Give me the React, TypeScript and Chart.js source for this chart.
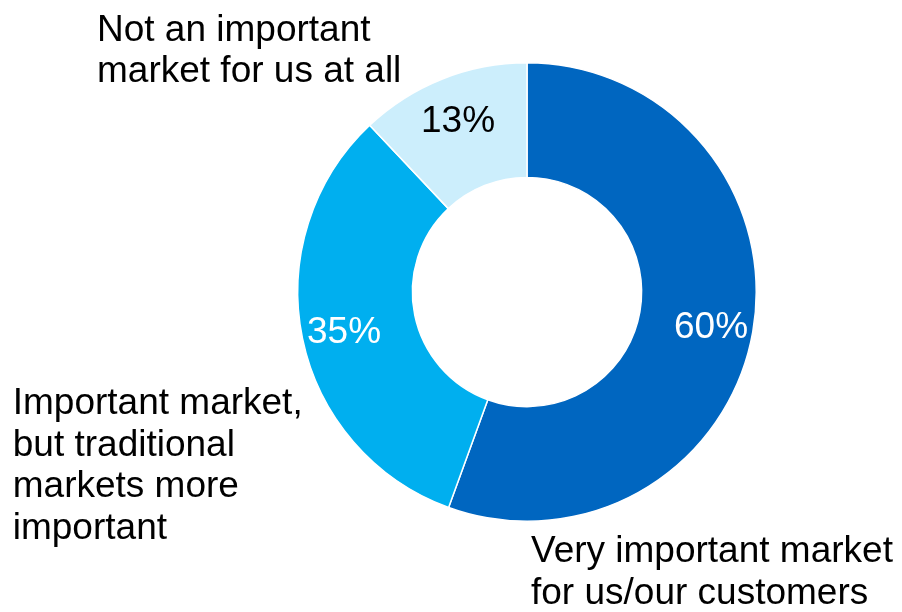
import React, { useEffect, useRef } from "react";
import { Chart, registerables } from "chart.js";

Chart.register(...registerables);

const categories = [
  "Very important market for us/our customers",
  "Important market, but traditional markets more important",
  "Not an important market for us at all",
];
const shares = [60, 35, 13];
const sliceColors = ["#0066C0", "#00AFEF", "#CCEEFC"];
const valueTextColors = ["#FFFFFF", "#FFFFFF", "#000000"];

// Multi-line captions placed around the ring
const captionLines = [
  ["Very important market", "for us/our customers"],
  ["Important market,", "but traditional", "markets more", "important"],
  ["Not an important", "market for us at all"],
];

const FONT = "37px 'Liberation Sans', Arial, sans-serif";
const LINE_H = 41.5;

const ringLabels = {
  id: "ringLabels",
  afterDatasetsDraw(chart: any) {
    const { ctx } = chart;
    const meta = chart.getDatasetMeta(0);
    ctx.save();
    ctx.font = FONT;

    // Percentages inside each slice
    meta.data.forEach((arc: any, i: number) => {
      const { x, y, startAngle, endAngle, innerRadius, outerRadius } = arc.getProps(
        ["x", "y", "startAngle", "endAngle", "innerRadius", "outerRadius"],
        true
      );
      const mid = (startAngle + endAngle) / 2;
      const r = innerRadius + (outerRadius - innerRadius) * 0.63;
      ctx.fillStyle = valueTextColors[i];
      ctx.textAlign = "center";
      ctx.textBaseline = "middle";
      ctx.fillText(shares[i] + "%", x + Math.cos(mid) * r, y + Math.sin(mid) * r + 3);
    });

    // Captions outside the ring, anchored to the ring's centre and radius
    const a0 = meta.data[0];
    const cx = a0.x;
    const cy = a0.y;
    const R = a0.outerRadius;
    ctx.fillStyle = "#000000";
    ctx.textAlign = "left";
    ctx.textBaseline = "alphabetic";
    const anchors = [
      { x: cx + 4, y: cy + R + 41 },
      { x: cx - R - 285, y: cy + 122 },
      { x: cx - 430, y: cy - R - 22 },
    ];
    captionLines.forEach((lines, i) => {
      lines.forEach((t, j) => {
        ctx.fillText(t, anchors[i].x, anchors[i].y + j * LINE_H);
      });
    });
    ctx.restore();
  },
};

export default function App() {
  const ref = useRef<HTMLCanvasElement>(null);

  useEffect(() => {
    if (!ref.current) return;
    const chart = new Chart(ref.current, {
      type: "doughnut",
      data: {
        labels: categories,
        datasets: [
          {
            data: shares,
            backgroundColor: sliceColors,
            borderColor: "#FFFFFF",
            borderWidth: 1.5,
          },
        ],
      },
      options: {
        responsive: false,
        animation: false,
        cutout: "50%",
        layout: { padding: { left: 297, right: 145, top: 62, bottom: 90 } },
        plugins: {
          legend: { display: false },
          tooltip: { enabled: false },
        },
      },
      plugins: [ringLabels],
    });
    return () => chart.destroy();
  }, []);

  return (
    <div style={{ position: "fixed", left: 0, top: 0, width: 902, height: 612, background: "#fff" }}>
      <canvas ref={ref} width={902} height={612} style={{ display: "block" }} />
    </div>
  );
}
